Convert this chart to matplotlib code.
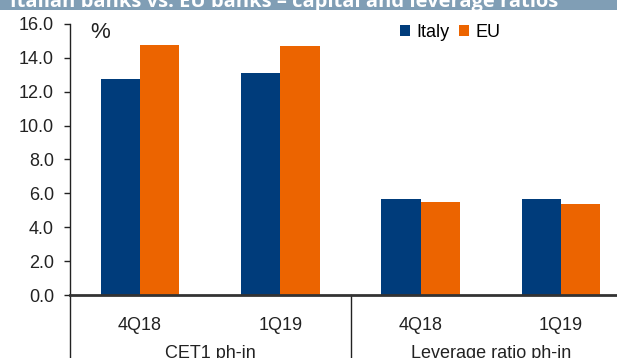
import matplotlib
matplotlib.use("Agg")
import matplotlib.pyplot as plt
from matplotlib.patches import Rectangle
import numpy as np

plt.rcParams['font.family'] = ['Liberation Sans', 'DejaVu Sans']

# Data
periods = ["4Q18", "1Q19", "4Q18", "1Q19"]
groups = ["CET1 ph-in", "Leverage ratio ph-in"]
italy = [12.73, 13.11, 5.65, 5.65]
eu = [14.75, 14.69, 5.47, 5.39]
series_names = ["Italy", "EU"]
colors = ["#003c7b", "#ec6400"]
title = "Italian banks vs. EU banks \u2013 capital and leverage ratios"

W, H = 617, 358
FS = 13
fig = plt.figure(figsize=(W / 100, H / 100), dpi=100)

# Header band
fig.patches.append(Rectangle((0, 1 - 10 / H), 1, 10 / H, transform=fig.transFigure,
                             facecolor="#809eb5", edgecolor="none", zorder=0))
fig.text(10 / W, 1 - 7 / H, title, color="white", fontsize=14.5, fontweight="bold",
         family=["Open Sans", "DejaVu Sans"], va="baseline", ha="left")

ax_left, ax_right = 70, 631
ax_bottom, ax_top = 295, 23.8
ax = fig.add_axes([ax_left / W, (H - ax_bottom) / H, (ax_right - ax_left) / W,
                   (ax_bottom - ax_top) / H])

x = np.arange(len(periods))
bw = 0.28
ax.bar(x - bw / 2, italy, width=bw, color=colors[0], label=series_names[0], zorder=2)
ax.bar(x + bw / 2, eu, width=bw, color=colors[1], label=series_names[1], zorder=2)

ax.set_xlim(-0.5, len(periods) - 0.5)
ax.set_ylim(0, 16)
ax.set_yticks(np.arange(0, 16.1, 2))
ax.set_yticklabels([f"{v:.1f}" for v in np.arange(0, 16.1, 2)])
ax.tick_params(axis="y", direction="out", length=4.5, width=1, color="#222222",
               labelsize=FS, labelcolor="#222222", pad=7)
ax.set_xticks([])

for s in ["top", "right"]:
    ax.spines[s].set_visible(False)
ax.spines["left"].set_color("#222222")
ax.spines["left"].set_linewidth(1)
ax.spines["bottom"].set_color("#333333")
ax.spines["bottom"].set_linewidth(2)
ax.spines["bottom"].set_zorder(3)

# Category labels below the axis
trans = ax.get_xaxis_transform()
ph = ax_bottom - ax_top
for i, p in enumerate(periods):
    ax.text(i, -(325 - ax_bottom) / ph, p, transform=trans, ha="center", va="center",
            fontsize=FS, color="#222222")
for j, g in enumerate(groups):
    ax.text(2 * j + 0.5, -(358.5 - ax_bottom) / ph, g, transform=trans, ha="center",
            va="baseline", fontsize=FS, color="#222222")
# Group separators
for xs in [-0.5, 1.5]:
    ax.plot([xs, xs], [0, -(H - ax_bottom) / ph], transform=trans, color="#222222",
            lw=1, clip_on=False)

ax.text(90 / W, 1 - 32.5 / H, "%", transform=fig.transFigure, fontsize=16,
        ha="left", va="center", color="#222222")

ax.legend(loc="center left", bbox_to_anchor=(400 / W, 1 - 32.7 / H),
          bbox_transform=fig.transFigure, ncol=2, frameon=False,
          handlelength=0.55, handleheight=0.55, handletextpad=0.35,
          columnspacing=0.55, fontsize=FS, borderpad=0, borderaxespad=0)

fig.savefig("out.png", dpi=100)
